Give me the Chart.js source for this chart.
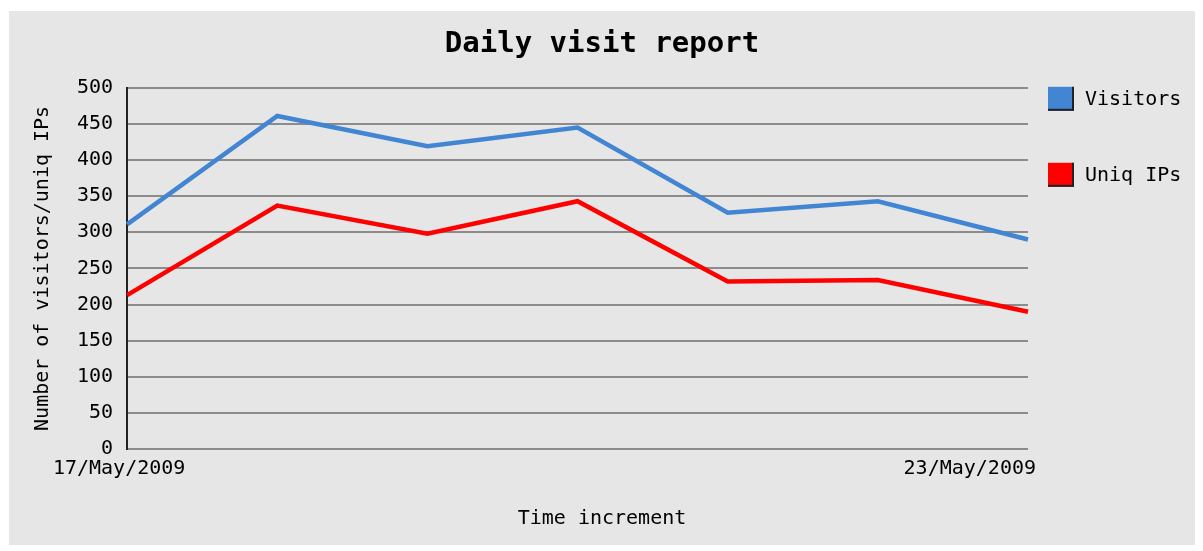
<!DOCTYPE html>
<html>
<head>
<meta charset="utf-8">
<script src="https://cdn.jsdelivr.net/npm/chart.js@4"></script>
<style>
  html, body { margin: 0; padding: 0; background: #ffffff; }
  #wrap { position: absolute; left: 9px; top: 11px; width: 1186px; height: 534px; background: #e6e6e6; }
</style>
</head>
<body>
<div id="wrap"><canvas id="chart1"></canvas></div>
<script>
const days = ['17/May/2009', '18/May/2009', '19/May/2009', '20/May/2009', '21/May/2009', '22/May/2009', '23/May/2009'];
const visitors = [311, 461, 419, 445, 327, 343, 290];
const uniqIps = [213, 337, 298, 343, 232, 234, 190];
const yTicks = [0, 50, 100, 150, 200, 250, 300, 350, 400, 450, 500];

const monoFont = '"DejaVu Sans Mono", "Liberation Mono", monospace';

// first and last date only, left/right aligned like the original
const endLabels = {
  id: 'endLabels',
  afterDraw(chart) {
    const ctx = chart.ctx;
    const x = chart.scales.x;
    const y = chart.chartArea.bottom + 20;
    ctx.save();
    ctx.font = '20px ' + monoFont;
    ctx.fillStyle = '#000';
    ctx.textBaseline = 'middle';
    ctx.textAlign = 'center';
    ctx.fillText(days[0], x.getPixelForValue(0) - 8, y);
    ctx.textAlign = 'right';
    ctx.fillText(days[days.length - 1], x.getPixelForValue(days.length - 1) + 8, y);
    ctx.restore();
  }
};

// legend at the right, boxes with a dark shadow edge
const sideLegend = {
  id: 'sideLegend',
  afterDraw(chart) {
    const ctx = chart.ctx;
    const left = chart.chartArea.right + 20;
    let top = chart.chartArea.top - 1;
    ctx.save();
    ctx.font = '20px ' + monoFont;
    ctx.textBaseline = 'middle';
    ctx.textAlign = 'left';
    chart.data.datasets.forEach(ds => {
      ctx.fillStyle = ds.borderColor;
      ctx.fillRect(left, top, 26, 24);
      ctx.fillStyle = '#222';
      ctx.fillRect(left + 24, top, 2, 24);
      ctx.fillRect(left, top + 22, 26, 2);
      ctx.fillStyle = '#000';
      ctx.fillText(ds.label, left + 37, top + 13);
      top += 76;
    });
    ctx.restore();
  }
};

const data1 = {
  labels: days,
  datasets: [
    {
      label: 'Visitors',
      data: visitors,
      borderColor: '#4185d3',
      backgroundColor: '#4185d3',
      borderWidth: 4.5,
      pointRadius: 0,
      tension: 0
    },
    {
      label: 'Uniq IPs',
      data: uniqIps,
      borderColor: '#ff0000',
      backgroundColor: '#ff0000',
      borderWidth: 4.5,
      pointRadius: 0,
      tension: 0
    }
  ]
};

const config1 = {
  type: 'line',
  data: data1,
  options: {
    responsive: true,
    maintainAspectRatio: false,
    animation: false,
    layout: { padding: 0 },
    plugins: {
      legend: { display: false },
      tooltip: { enabled: false },
      title: {
        display: true,
        text: 'Daily visit report',
        color: '#000',
        font: { family: monoFont, size: 29, weight: 'bold' },
        padding: { top: 16, bottom: 26 }
      },
      subtitle: {
        display: true,
        position: 'bottom',
        text: 'Time increment',
        color: '#000',
        font: { family: monoFont, size: 20, weight: 'normal' },
        padding: { top: 10, bottom: 14 }
      }
    },
    scales: {
      x: {
        offset: false,
        grid: { display: false },
        border: { display: false },
        ticks: {
          color: 'transparent',
          font: { family: monoFont, size: 20 },
          padding: 8,
          maxRotation: 0,
          autoSkip: false,
          callback: (v, i) => (i === 0 || i === days.length - 1) ? days[i] : ''
        }
      },
      y: {
        min: 0,
        max: 500,
        afterBuildTicks: axis => { axis.ticks = yTicks.map(v => ({ value: v })); },
        grid: { color: '#8c8c8c', lineWidth: 2, drawTicks: false },
        border: { display: true, color: '#222', width: 2 },
        ticks: {
          color: '#000',
          font: { family: monoFont, size: 20 },
          padding: 14
        },
        title: {
          display: true,
          text: 'Number of visitors/uniq IPs',
          color: '#000',
          font: { family: monoFont, size: 20 },
          padding: { top: 22, bottom: 8 }
        }
      },
      // empty right axis, only reserves room for the legend
      side: {
        position: 'right',
        display: true,
        grid: { display: false },
        border: { display: false },
        ticks: { display: false },
        afterFit: axis => { axis.width = 167; }
      }
    }
  },
  plugins: [endLabels, sideLegend]
};

const myChart1 = new Chart(document.getElementById('chart1').getContext('2d'), config1);
</script>
</body>
</html>
